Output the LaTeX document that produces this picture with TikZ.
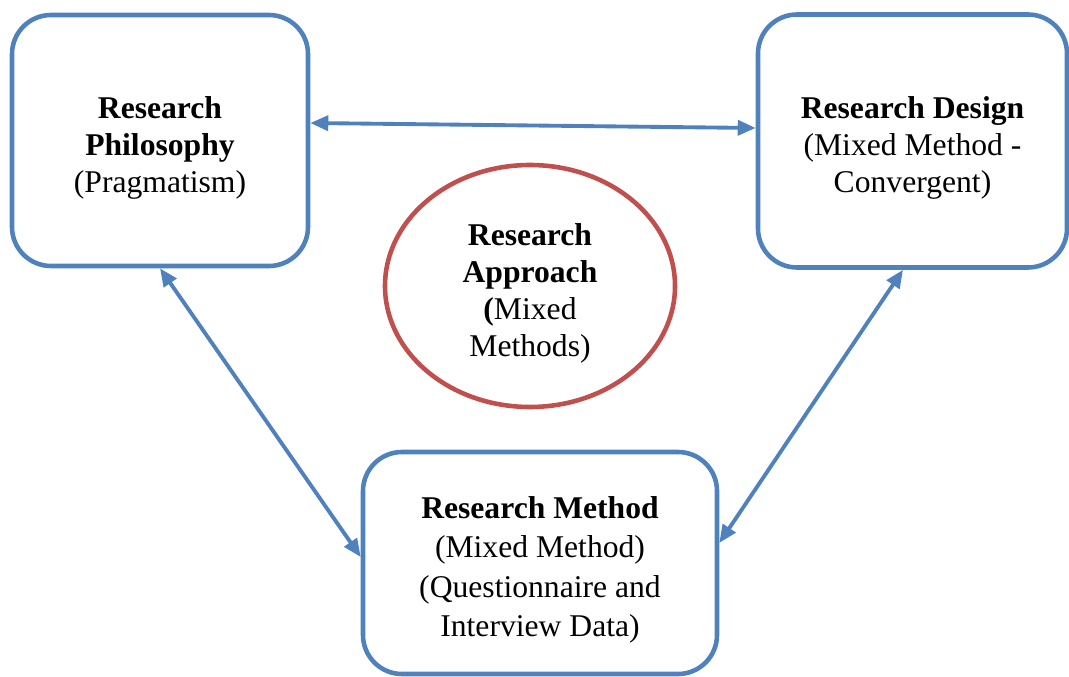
\documentclass[tikz,border=0pt]{standalone}
\usepackage{fontspec}
\setmainfont{Liberation Serif}
\usepackage{tikz}
\usetikzlibrary{arrows.meta, positioning, shapes.geometric, calc}
\definecolor{stageblue}{HTML}{4F81BD}
\definecolor{hubred}{HTML}{C0504D}
\newcommand{\gapline}{\rule{0pt}{20.5pt}}

\begin{document}
\begin{tikzpicture}[
    <->, >={Triangle[length=0.36cm, width=0.3cm]},
    stage/.style={draw=stageblue, line width=2.6pt, rounded corners=0.78cm, align=center, inner sep=0pt,
        font=\fontsize{18}{21}\selectfont},
    hub/.style={draw=hubred, line width=2.6pt, ellipse, align=center, inner sep=0pt,
        font=\fontsize{18}{21}\selectfont},
    link/.style={draw=stageblue, line width=2.2pt},
]
    \useasboundingbox (0,0) rectangle (21.38,-13.54);

    % Stages
    \node[stage, minimum width=5.92cm, minimum height=5.02cm] (phil) at (3.2,-2.81)
        {\gapline\textbf{Research}\\\textbf{Philosophy}\\(Pragmatism)};
    \node[stage, minimum width=6.18cm, minimum height=5.06cm] (design) at (18.25,-2.82)
        {\gapline\textbf{Research Design}\\(Mixed Method -\\Convergent)};
    \node[stage, minimum width=7.08cm, minimum height=4.44cm, font=\fontsize{18}{22.5}\selectfont] (method) at (10.8,-11.26)
        {\gapline\textbf{Research Method}\\(Mixed Method)\\(Questionnaire and\\Interview Data)};
    \node[hub, minimum width=5.8cm, minimum height=4.84cm] (approach) at (10.6,-5.72)
        {\gapline\textbf{Research}\\\textbf{Approach}\\\textbf{(}Mixed\\Methods)};

    % Ends
    \coordinate (philE) at ([yshift=0.35cm]phil.east);
    \coordinate (designW) at ([yshift=0.26cm]design.west);
    \coordinate (designS) at ([xshift=-0.19cm]design.south);
    \coordinate (methodW) at ([yshift=0.12cm]method.west);
    \coordinate (methodE) at ([yshift=0.4cm]method.east);

    % Links
    \draw[link] (philE) -- (designW);
    \draw[link] (phil.south) -- (methodW);
    \draw[link] (designS) -- (methodE);
\end{tikzpicture}
\end{document}
